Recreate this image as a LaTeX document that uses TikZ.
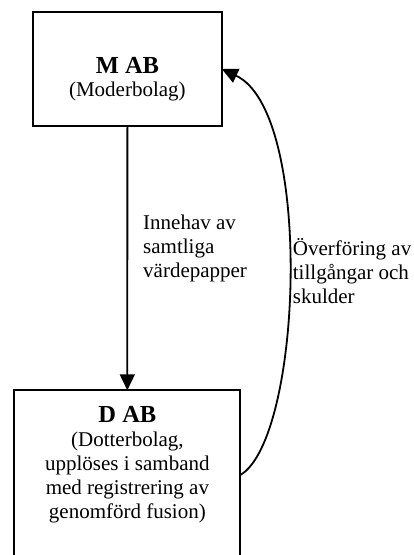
\documentclass[tikz,border=0pt]{standalone}
\usepackage{fontspec}
\setmainfont{Liberation Serif}
\usetikzlibrary{arrows.meta}

\tikzset{
  entity/.style={draw, line width=2pt, inner sep=0pt, outer sep=0pt},
  title/.style={font=\fontsize{24.5}{28}\selectfont\bfseries, inner sep=0pt, anchor=base},
  % multi-line nodes: the base anchor sits on the last line
  body/.style={font=\fontsize{21}{24}\selectfont, inner sep=0pt, align=center, anchor=base},
  note/.style={font=\fontsize{21}{24}\selectfont, inner sep=0pt, align=left, anchor=base west},
  flow/.style={line width=1.8pt, -{Triangle[length=16pt,width=15pt]}}
}

\begin{document}
\begin{tikzpicture}[x=1pt, y=-1pt]
  \clip (0,0) rectangle (414,555);
  \fill[white] (0,0) rectangle (414,555);

  % parent company
  \node[entity, minimum width=188.8pt, minimum height=113.4pt] (M) at (127.4,69) {};
  \node[title] (Mt) at (127.4,73.3) {M AB};
  \node[body] (Ms) at (127.4,96.7) {(Moderbolag)};

  % subsidiary, running past the lower edge
  \node[entity, minimum width=226pt, minimum height=230pt] (D) at (127.3,505.3) {};
  \node[title] (Dt) at (127.4,422.7) {D AB};
  \node[body] (Ds) at (127.4,518.9) {(Dotterbolag,\\upplöses i samband\\med registrering av\\genomförd fusion)};

  % holding of all shares
  \draw[flow] (M.south) -- (D.north);
  \node[note] (L1) at (143,277.3) {Innehav av\\samtliga\\värdepapper};

  % transfer of assets and liabilities
  \draw[flow] (D.15) .. controls (302.3,438.8) and (314,112) .. (M.east);
  \node[note] (L2) at (292.7,303.6) {Överföring av\\tillgångar och\\skulder};
\end{tikzpicture}
\end{document}
